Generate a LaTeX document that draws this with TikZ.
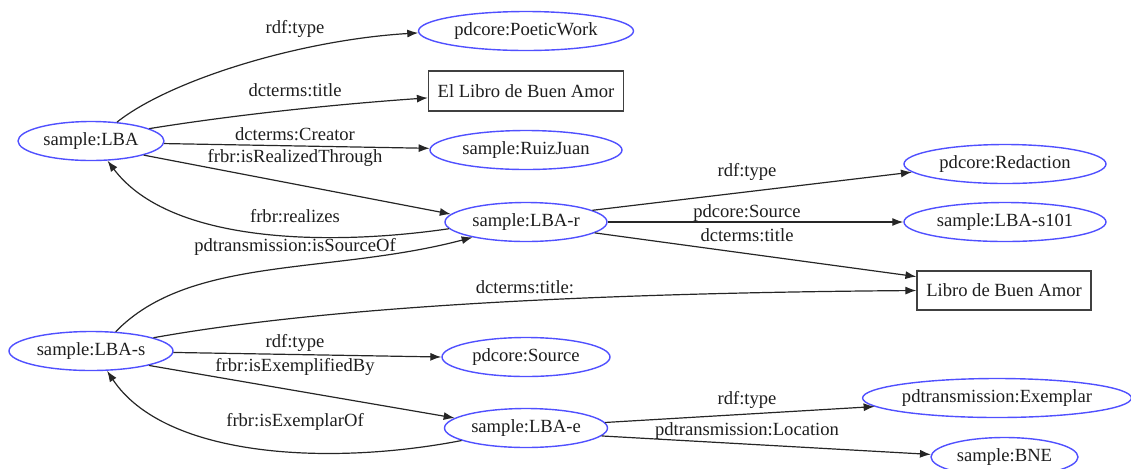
\documentclass[tikz,border=0pt]{standalone}
\usepackage{fontspec}
\setmainfont{Liberation Serif}
\usetikzlibrary{shapes.geometric,arrows.meta}
\definecolor{nodeblue}{RGB}{80,80,255}
\definecolor{inkgray}{RGB}{30,30,30}
\begin{document}
\begin{tikzpicture}[x=0.5pt,y=-0.5pt,
  txt/.style={font=\fontsize{9.3}{11}\selectfont,text=inkgray},
  res/.style={txt,ellipse,draw=nodeblue,line width=0.7pt,inner sep=0pt,minimum height=19.5pt},
  lit/.style={txt,rectangle,draw=black!75,line width=0.6pt,inner sep=0pt,minimum height=19.5pt},
  lbl/.style={txt,inner sep=0pt},
  conn/.style={draw=black!85,line width=0.6pt,-{Latex[length=5.5pt,width=4pt]}}]
\useasboundingbox (0,0) rectangle (1131,468);
% nodes
\node[res,minimum width=73pt] (LBA) at (91,141) {sample:LBA};
\node[res,minimum width=107.5pt] (PW) at (526,31) {pdcore:PoeticWork};
\node[lit,minimum width=97.5pt,minimum height=20pt] (T1) at (526,91) {El Libro de Buen Amor};
\node[res,minimum width=96pt] (Ruiz) at (526,150) {sample:RuizJuan};
\node[res,minimum width=81pt] (LBAr) at (526,222) {sample:LBA-r};
\node[res,minimum width=101pt] (Red) at (1005,164) {pdcore:Redaction};
\node[res,minimum width=101pt] (S101) at (1005,222) {sample:LBA-s101};
\node[lit,minimum width=87pt] (T2) at (1004,290.5) {Libro de Buen Amor};
\node[res,minimum width=82pt] (LBAs) at (91,351) {sample:LBA-s};
\node[res,minimum width=84pt] (Src) at (526,357) {pdcore:Source};
\node[res,minimum width=81.5pt] (LBAe) at (526,428) {sample:LBA-e};
\node[res,minimum width=133pt] (Ex) at (997,398) {pdtransmission:Exemplar};
\node[res,minimum width=73.5pt] (BNE) at (1004.5,457) {sample:BNE};
% edges
\draw[conn] (LBA.36) .. controls (170,80) and (300,40) .. (PW.181);
\draw[conn] (LBA.12) .. controls (240,114) and (340,104) .. (T1.184);
\draw[conn] (LBA.-2) -- (Ruiz.179);
\draw[conn] (LBA.-15) -- (LBAr.174);
\draw[conn] (LBAr.185) .. controls (330,246) and (170,244) .. (LBA.-50);
\draw[conn] (LBAs.38) .. controls (190,255) and (330,275) .. (LBAr.196);
\draw[conn] (LBAs.12) .. controls (330,306) and (600,293) .. (T2.west);
\draw[conn] (LBAs.-1) -- (Src.west);
\draw[conn] (LBAs.-14) -- (LBAe.172);
\draw[conn] (LBAe.191.5) .. controls (330,466) and (165,458) .. (LBAs.-51);
\draw[conn] (LBAr.10) -- (Red.185);
\draw[conn] (LBAr.east) -- (S101.west);
\draw[conn] (LBAr.-9) -- (T2.171);
\draw[conn] (LBAe.4) -- (Ex.184);
\draw[conn] (LBAe.-6) -- (BNE.178.5);
% labels
\node[lbl] (l1) at (295,29) {rdf:type};
\node[lbl] (l2) at (295,90) {dcterms:title};
\node[lbl] (l3) at (295,134) {dcterms:Creator};
\node[lbl] (l4) at (295,158) {frbr:isRealizedThrough};
\node[lbl] (l5) at (295,216) {frbr:realizes};
\node[lbl] (l6) at (295,247) {pdtransmission:isSourceOf};
\node[lbl] (l7) at (525,287) {dcterms:title:};
\node[lbl] (l8) at (295,343) {rdf:type};
\node[lbl] (l9) at (295,367) {frbr:isExemplifiedBy};
\node[lbl] (l10) at (295,422) {frbr:isExemplarOf};
\node[lbl] (l11) at (747,172) {rdf:type};
\node[lbl] (l12) at (747,213) {pdcore:Source};
\node[lbl] (l13) at (747,235) {dcterms:title};
\node[lbl] (l14) at (747,400) {rdf:type};
\node[lbl] (l15) at (747,431) {pdtransmission:Location};
\end{tikzpicture}
\end{document}
